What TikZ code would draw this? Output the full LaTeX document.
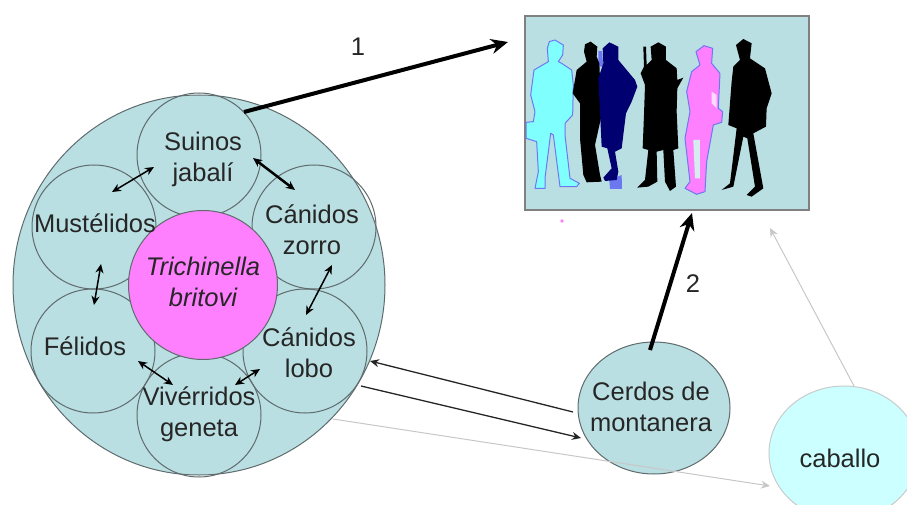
\documentclass[tikz,border=0pt]{standalone}
\usepackage{fontspec}
\setmainfont{Liberation Sans}
\usetikzlibrary{arrows.meta,shapes.geometric}
\definecolor{tbteal}{HTML}{BADFE2}
\definecolor{tbedge}{HTML}{5F6B6D}
\definecolor{tbink}{HTML}{262626}
\definecolor{tbpink}{HTML}{FF80FF}
\definecolor{tbpale}{HTML}{CCFFFF}
\definecolor{tbcyan}{HTML}{80FFFF}
\definecolor{tbnavy}{HTML}{000070}
\definecolor{tbblue}{HTML}{6C78F0}
\tikzset{
  tbbig/.style={ellipse, draw=tbedge, fill=tbteal, line width=1pt, minimum width=372pt, minimum height=380pt, inner sep=0pt},
  tbhost/.style={circle, draw=tbedge, line width=1pt, minimum size=124pt, inner sep=0pt},
  tbcore/.style={circle, draw=tbedge, fill=tbpink, line width=1pt, minimum size=149pt, inner sep=0pt},
  tbpig/.style={ellipse, draw=tbedge, fill=tbteal, line width=1pt, minimum width=152pt, minimum height=132pt, inner sep=0pt},
  tbhorse/.style={ellipse, draw=tbedge!35, fill=tbpale, line width=1pt, minimum width=150pt, minimum height=134pt, inner sep=0pt},
  tbtxt/.style={text=tbink, font=\fontsize{25.5}{31}\selectfont, align=center, inner sep=0pt},
  tbboth/.style={draw=black, line width=1.5pt, {Stealth[length=9pt,width=8pt]}-{Stealth[length=9pt,width=8pt]}},
  tbfat/.style={draw=black, line width=4pt, -{Stealth[length=17pt,width=15pt]}},
  tbthin/.style={draw=tbink, line width=1.3pt, -{Stealth[length=9pt,width=8pt]}},
  tbfaint/.style={draw=black!22, line width=1pt, -{Stealth[length=9pt,width=8pt]}},
  tbsil/.style={line width=1pt, line join=round}
}
\begin{document}
\begin{tikzpicture}[x=1pt, y=-1pt]
  \useasboundingbox (0,0) rectangle (907,505);
  % group of hosts
  \node[tbbig] (wild) at (199,285) {};
  \node[tbhost] (suinos) at (199,155) {};
  \node[tbhost] (mustelidos) at (94,227) {};
  \node[tbhost] (zorro) at (314,227) {};
  \node[tbhost] (felidos) at (93,351) {};
  \node[tbhost] (lobo) at (305,351) {};
  \node[tbhost] (viverridos) at (199,415) {};
  \node[tbcore] (britovi) at (203,285) {};
  \node[tbtxt] (suinostxt) at (203,159) {Suinos\\jabalí};
  \node[tbtxt] (mustelidostxt) at (95,223) {Mustélidos};
  \node[tbtxt] (zorrotxt) at (312,230) {Cánidos\\zorro};
  \node[tbtxt] (felidostxt) at (85,346) {Félidos};
  \node[tbtxt] (lobotxt) at (309,353) {Cánidos\\lobo};
  \node[tbtxt] (viverridostxt) at (199,414) {Vivérridos\\geneta};
  \node[tbtxt, font=\fontsize{25.5}{31}\selectfont\itshape] (britovitxt) at (203,282) {Trichinella\\britovi};
  % people
  \node[rectangle, draw=black!50, fill=tbteal, line width=1.5pt, minimum width=284pt, minimum height=194pt, inner sep=0pt] (people) at (667,113) {};
  \begin{scope}[shift={(520,5)}, x=0.3333pt, y=-0.3333pt]
    \fill[tbsil, fill=tbblue] (268,525) -- (305,510) -- (306,552) -- (270,552) -- cycle;
    \fill[tbsil, fill=tbblue] (235,138) -- (246,138) -- (250,185) -- (235,185) -- cycle;
    \filldraw[tbsil, draw=tbblue, fill=tbcyan] (105,105) -- (130,120) -- (128,150) -- (115,170) -- (125,175) -- (155,195) -- (160,240) -- (158,330) -- (135,355) -- (135,390) -- (150,520) -- (178,535) -- (170,545) -- (120,545) -- (100,390) -- (92,385) -- (75,520) -- (75,550) -- (45,550) -- (55,500) -- (50,410) -- (18,400) -- (18,352) -- (40,350) -- (45,320) -- (32,270) -- (42,195) -- (85,170) -- (82,130) -- (88,110) -- cycle;
    \fill[tbsil, fill=black] (212,110) -- (232,125) -- (230,155) -- (238,175) -- (245,330) -- (225,420) -- (240,510) -- (245,530) -- (200,532) -- (190,510) -- (180,400) -- (180,295) -- (158,265) -- (170,195) -- (200,170) -- (192,140) -- (195,118) -- cycle;
    \fill[tbsil, fill=tbnavy] (268,112) -- (295,125) -- (295,165) -- (345,225) -- (352,245) -- (335,290) -- (318,325) -- (305,430) -- (285,440) -- (295,500) -- (290,525) -- (255,528) -- (250,518) -- (275,490) -- (262,430) -- (245,425) -- (240,320) -- (235,220) -- (250,175) -- (248,130) -- cycle;
    \fill[tbsil, fill=black] (415,112) -- (438,125) -- (438,165) -- (470,190) -- (472,225) -- (490,218) -- (472,250) -- (470,320) -- (475,430) -- (460,435) -- (468,545) -- (450,558) -- (435,530) -- (430,435) -- (410,440) -- (412,530) -- (385,545) -- (352,548) -- (375,525) -- (385,435) -- (368,430) -- (372,330) -- (375,240) -- (362,205) -- (372,185) -- (370,125) -- (378,125) -- (380,180) -- (395,165) -- (392,125) -- cycle;
    \filldraw[tbsil, draw=tbblue, fill=tbpink] (552,122) -- (578,130) -- (575,175) -- (600,205) -- (595,310) -- (608,320) -- (605,352) -- (580,360) -- (560,470) -- (555,560) -- (530,568) -- (495,550) -- (510,530) -- (495,400) -- (510,320) -- (500,260) -- (515,200) -- (540,180) -- (528,140) -- cycle;
    \fill[tbteal!60!white] (520,405) -- (540,405) -- (540,520) -- (525,520) -- cycle;
    \fill[white!70!tbpink] (575,260) -- (590,270) -- (590,310) -- (575,295) -- cycle;
    \fill[tbsil, fill=black] (670,102) -- (695,115) -- (690,160) -- (735,190) -- (755,265) -- (740,310) -- (738,365) -- (700,385) -- (730,550) -- (695,575) -- (680,570) -- (705,545) -- (682,400) -- (670,395) -- (640,545) -- (605,555) -- (630,535) -- (650,370) -- (625,360) -- (635,230) -- (640,185) -- (660,165) -- (648,120) -- cycle;
  \end{scope}
  \fill[tbpink] (562,221) circle (1.8pt);
  % pigs and horse
  \node[tbpig] (cerdos) at (654,408) {};
  \node[tbhorse] (caballo) at (844,453) {};
  \node[tbtxt] (cerdostxt) at (651,407) {Cerdos de\\montanera};
  \node[tbtxt] (caballotxt) at (840,458) {caballo};
  \node[tbtxt] (uno) at (358,47) {1};
  \node[tbtxt] (dos) at (693,284) {2};
  % ends of the links
  \coordinate (sm1) at (154,167); \coordinate (sm2) at (112,192);
  \coordinate (sz1) at (253,158); \coordinate (sz2) at (295,190);
  \coordinate (mf1) at (101,264); \coordinate (mf2) at (94,305);
  \coordinate (zl1) at (332,265); \coordinate (zl2) at (306,315);
  \coordinate (fv1) at (138,361); \coordinate (fv2) at (173,385);
  \coordinate (lv1) at (260,369); \coordinate (lv2) at (235,385);
  \coordinate (fatin1) at (244,112); \coordinate (fatout1) at (508,42);
  \coordinate (fatin2) at (650,350); \coordinate (fatout2) at (692,213);
  \coordinate (cl1) at (573,412); \coordinate (cl2) at (370,361);
  \coordinate (lc1) at (361,386); \coordinate (lc2) at (581,438);
  \coordinate (wc1) at (333,419); \coordinate (wc2) at (770,486);
  \coordinate (cp1) at (854,386); \coordinate (cp2) at (770,228);
  % links
  \path[tbboth] (sm1) -- (sm2);
  \path[tbboth, line width=2.5pt] (sz1) -- (sz2);
  \path[tbboth] (mf1) -- (mf2);
  \path[tbboth] (zl1) -- (zl2);
  \path[tbboth] (fv1) -- (fv2);
  \path[tbboth] (lv1) -- (lv2);
  \path[tbfat] (fatin1) -- (fatout1);
  \path[tbfat] (fatin2) -- (fatout2);
  \path[tbthin] (cl1) -- (cl2);
  \path[tbthin] (lc1) -- (lc2);
  \path[tbfaint] (wc1) -- (wc2);
  \path[tbfaint] (cp1) -- (cp2);
\end{tikzpicture}
\end{document}
